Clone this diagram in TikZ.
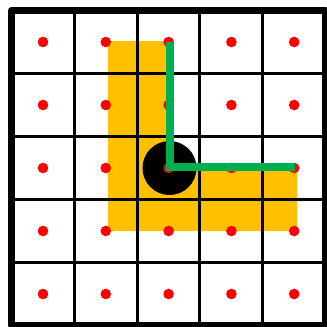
\documentclass[tikz,border=0pt]{standalone}
\usepackage{tikz}
\definecolor{cellorange}{HTML}{FFC000}
\definecolor{pathgreen}{HTML}{00B050}
\definecolor{dotred}{HTML}{FF0000}
\tikzset{
  region/.style={fill=cellorange, draw=none},
  gridline/.style={draw=black, line width=3pt},
  frame/.style={draw=black, line width=7pt, line join=round},
  blob/.style={fill=black},
  dot/.style={fill=dotred},
  route/.style={draw=pathgreen, line width=8pt, line join=miter, line cap=butt}
}
\begin{document}
\begin{tikzpicture}[x=1pt,y=-1pt]
\useasboundingbox[fill=white] (0,0) rectangle (327,327);
\begin{scope}
\clip (0,0) rectangle (327,327);
% orange L region
\fill[region] (108,41) -- (170,41) -- (170,167) -- (297,167) -- (297,231) -- (108,231) -- cycle;
% grid
\foreach \i in {1,2,3,4} {
  \draw[gridline] ({11.5+62.8*\i},10.5) -- ({11.5+62.8*\i},325.5);
  \draw[gridline] (11.5,{10.5+63*\i}) -- (325.5,{10.5+63*\i});
}
\draw[frame] (11.5,10.5) rectangle (325.5,325.5);
% black disc
\fill[blob] (169.5,168) circle (27);
% red dots
\foreach \i in {0,...,4} {
  \foreach \j in {0,...,4} {
    \fill[dot] ({43+62.8*\i},{42+63*\j}) circle (5.3);
  }
}
% green route
\coordinate (top) at (169.8,42);
\coordinate (corner) at (169.8,167.3);
\coordinate (end) at (295,167.3);
\draw[route] (top) -- (corner) -- (end);
\end{scope}
\end{tikzpicture}
\end{document}
